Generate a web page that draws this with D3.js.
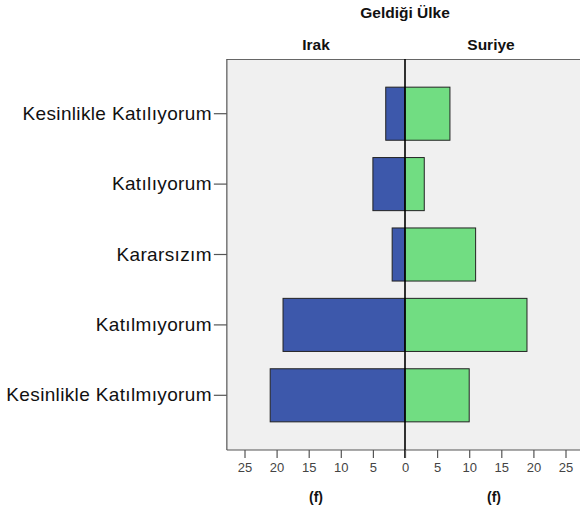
<!DOCTYPE html>
<html><head><meta charset="utf-8">
<script src="https://cdn.jsdelivr.net/npm/d3@7"></script>
<style>body{margin:0;background:#fff;} svg{display:block;font-family:"Liberation Sans",Arial,sans-serif;}</style>
</head><body><div id="chart"></div>
<script>
const categories = ["Kesinlikle Katılıyorum","Katılıyorum","Kararsızım","Katılmıyorum","Kesinlikle Katılmıyorum"];
const irak = [3,5,2,19,21];
const suriye = [7,3,11,19,10];
const tickValues = [0,5,10,15,20,25];
const groupTitle = "Geldiği Ülke";
const groupNames = ["Irak","Suriye"];
const axisTitle = "(f)";

(function(){
const W=580,H=511;
const svg=d3.select("#chart").append("svg").attr("width",W).attr("height",H);
const x0=405, plotTop=59, plotBottom=450;
const xL=d3.scaleLinear().domain([0,25]).range([x0,244.5]);
const xR=d3.scaleLinear().domain([0,25]).range([x0,565.5]);
const maxV=27.75;
const leftEdge=xL(maxV), rightEdge=xR(maxV);
const y=d3.scaleBand().domain(categories).range([plotTop,plotBottom]).paddingInner(0.246).paddingOuter(0.4);

svg.append("rect").attr("x",leftEdge).attr("y",plotTop).attr("width",rightEdge-leftEdge).attr("height",plotBottom-plotTop).attr("fill","#f0f0f0");

const data=categories.map((c,i)=>({c,irak:irak[i],suriye:suriye[i]}));
svg.selectAll(".bl").data(data).join("rect").attr("class","bl")
 .attr("x",d=>xL(d.irak)).attr("y",d=>y(d.c)).attr("width",d=>x0-xL(d.irak)).attr("height",y.bandwidth())
 .attr("fill","#3d58ab").attr("stroke","#222").attr("stroke-width",1);
svg.selectAll(".br").data(data).join("rect").attr("class","br")
 .attr("x",x0).attr("y",d=>y(d.c)).attr("width",d=>xR(d.suriye)-x0).attr("height",y.bandwidth())
 .attr("fill","#71dd82").attr("stroke","#222").attr("stroke-width",1);

svg.append("line").attr("x1",leftEdge).attr("x2",rightEdge).attr("y1",plotTop+0.5).attr("y2",plotTop+0.5).attr("stroke","#666").attr("stroke-width",1.2);
svg.append("line").attr("x1",leftEdge).attr("x2",leftEdge).attr("y1",plotTop).attr("y2",plotBottom).attr("stroke","#555").attr("stroke-width",1.2);
svg.append("line").attr("x1",leftEdge).attr("x2",rightEdge).attr("y1",plotBottom).attr("y2",plotBottom).attr("stroke","#555").attr("stroke-width",1.2);
svg.append("line").attr("x1",x0).attr("x2",x0).attr("y1",plotTop).attr("y2",plotBottom+8).attr("stroke","#000").attr("stroke-width",1.6);

const gy=svg.append("g").attr("transform",`translate(${leftEdge},0)`).call(d3.axisLeft(y).tickSize(13).tickPadding(2));
gy.select(".domain").remove();
gy.selectAll(".tick line").attr("stroke","#555").attr("stroke-width",1.2);
gy.selectAll(".tick text").attr("font-size",19).attr("letter-spacing","0.35px").attr("fill","#111").attr("font-family","Liberation Sans, Arial, sans-serif");

function styleX(g){
 g.select(".domain").remove();
 g.selectAll(".tick line").attr("stroke","#555").attr("stroke-width",1.2);
 g.selectAll(".tick text").attr("font-size",13).attr("fill","#444").attr("font-family","Liberation Sans, Arial, sans-serif");
}
const gxl=svg.append("g").attr("transform",`translate(0,${plotBottom})`).call(d3.axisBottom(xL).tickValues(tickValues.slice(1)).tickSize(8).tickPadding(5));
styleX(gxl);
const gxr=svg.append("g").attr("transform",`translate(0,${plotBottom})`).call(d3.axisBottom(xR).tickValues(tickValues).tickSize(8).tickPadding(5));
styleX(gxr);

const hdr=(x,yy,t,fs)=>svg.append("text").attr("x",x).attr("y",yy).attr("text-anchor","middle").attr("font-size",fs).attr("font-weight","bold").attr("fill","#111").text(t);
hdr(405,18,groupTitle,15.5);
hdr(316,50,groupNames[0],15.5);
hdr(491,50,groupNames[1],15.5);
hdr(316,502,axisTitle,14);
hdr(494,502,axisTitle,14);
})();
</script></body></html>
